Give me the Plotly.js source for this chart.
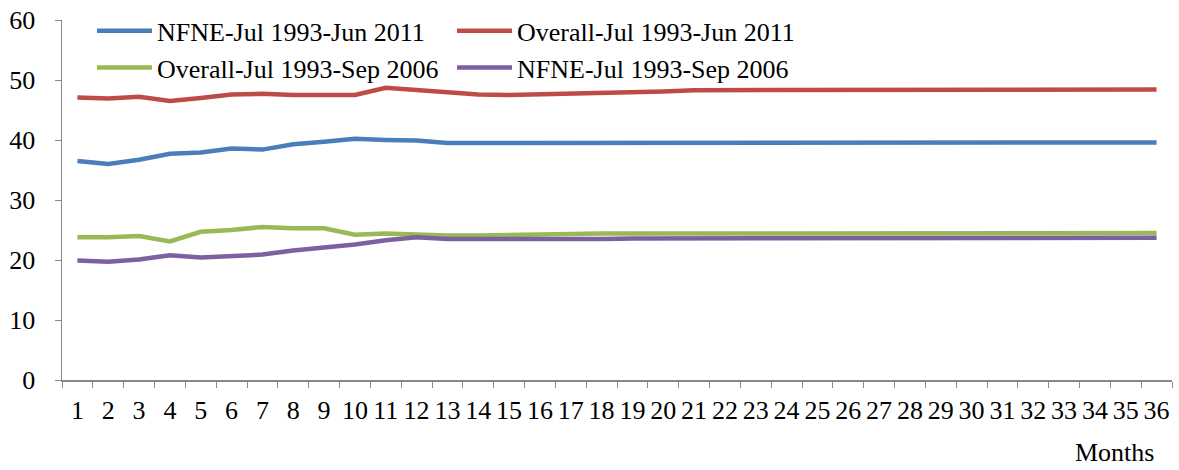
<!DOCTYPE html>
<html>
<head>
<meta charset="utf-8">
<script src="https://cdn.plot.ly/plotly-3.0.1.min.js"></script>
<style>html,body{margin:0;padding:0;background:#fff;}#chart{width:1179px;height:470px;}</style>
</head>
<body>
<div id="chart"></div>
<script>
const months = ["1","2","3","4","5","6","7","8","9","10","11","12","13","14","15","16","17","18","19","20","21","22","23","24","25","26","27","28","29","30","31","32","33","34","35","36"];
const nfneJun2011 = [36.5,36.0,36.7,37.7,37.9,38.6,38.4,39.3,39.7,40.2,40.0,39.9,39.5,39.5,39.5,39.5,39.5,39.6,39.6,39.6,39.6,39.6,39.6,39.6,39.5,39.5,39.5,39.5,39.5,39.5,39.6,39.6,39.6,39.6,39.6,39.6];
const overallJun2011 = [47.1,46.9,47.2,46.5,47.0,47.6,47.7,47.5,47.5,47.5,48.7,48.3,47.9,47.6,47.5,47.6,47.8,47.9,48.0,48.1,48.3,48.3,48.3,48.3,48.4,48.4,48.4,48.4,48.4,48.4,48.4,48.4,48.4,48.4,48.4,48.4];
const overallSep2006 = [23.8,23.8,24.0,23.1,24.7,25.0,25.5,25.3,25.3,24.2,24.4,24.2,24.1,24.1,24.2,24.3,24.3,24.4,24.4,24.4,24.4,24.4,24.4,24.4,24.4,24.4,24.5,24.5,24.5,24.5,24.5,24.5,24.5,24.5,24.5,24.5];
const nfneSep2006 = [19.9,19.7,20.1,20.8,20.4,20.7,20.9,21.6,22.1,22.6,23.3,23.8,23.5,23.5,23.4,23.4,23.5,23.5,23.6,23.6,23.6,23.6,23.7,23.7,23.6,23.6,23.6,23.7,23.7,23.7,23.7,23.7,23.7,23.7,23.7,23.7];
const seriesNames = ["NFNE-Jul 1993-Jun 2011","Overall-Jul 1993-Jun 2011","Overall-Jul 1993-Sep 2006","NFNE-Jul 1993-Sep 2006"];
const seriesColors = ["#4a7ebb","#be4b48","#98b954","#7d60a0"];
const seriesData = [nfneJun2011, overallJun2011, overallSep2006, nfneSep2006];

const fam = "Liberation Serif, Times New Roman, serif";
const font = {family: fam, size: 26, color: "#000"};
const traces = seriesData.map((d,i)=>({
  x: months, y: d, type: "scatter", mode: "lines", name: seriesNames[i],
  line: {color: seriesColors[i], width: 4.5}
}));
const layout = {
  width: 1179, height: 470,
  margin: {l: 62, r: 7, t: 19, b: 90},
  paper_bgcolor: "#fff", plot_bgcolor: "#fff",
  font: font,
  showlegend: true,
  legend: {orientation: "h", x: 0.03, y: 1.035, xanchor: "left", yanchor: "top",
    entrywidth: 290, entrywidthmode: "pixels", itemwidth: 55,
    font: {family: fam, size: 26, color: "#000"}, bgcolor: "rgba(0,0,0,0)", tracegroupgap: 0},
  xaxis: {type: "category", range: [-0.5, 35.5], tickson: "boundaries", ticks: "outside", ticklen: 6,
    tickmode: "array", tickvals: months, ticktext: months,
    tickcolor: "#888", showline: true, linecolor: "#888", linewidth: 1.5, showgrid: false, zeroline: false,
    tickfont: {family: fam, size: 26, color: "#000"}, tickangle: 0, ticklabelstandoff: 6, fixedrange: true},
  yaxis: {range: [0, 60], dtick: 10, ticks: "outside", ticklen: 6, tickcolor: "#888",
    showline: true, linecolor: "#888", linewidth: 1.5, showgrid: false, zeroline: false,
    tickfont: {family: fam, size: 26, color: "#000"}, ticklabelstandoff: 14},
  annotations: [{text: "Months", xref: "paper", yref: "paper", x: 0.948, y: -0.202, xanchor: "center", yanchor: "middle",
    showarrow: false, font: {family: fam, size: 26, color: "#000"}}]
};
Plotly.newPlot("chart", traces, layout, {displayModeBar: false, staticPlot: true});
</script>
</body>
</html>
